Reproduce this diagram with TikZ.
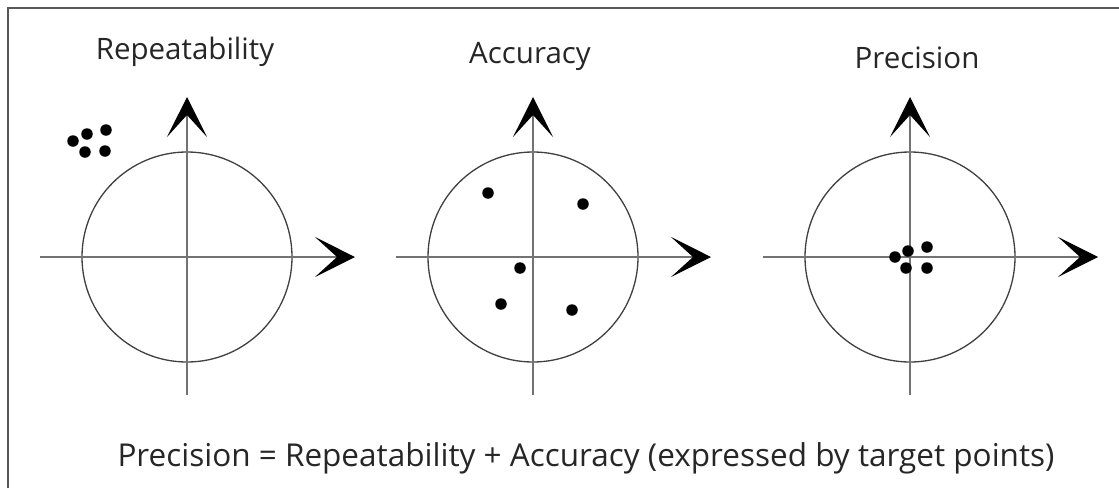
\documentclass[tikz,border=0pt]{standalone}
\usepackage{fontspec}
\setmainfont{Open Sans}
\usetikzlibrary{arrows.meta}
\begin{document}
\begin{tikzpicture}[x=1pt,y=-1pt,
  frameline/.style={draw=black!65,line width=2pt},
  axisline/.style={draw=black!55,line width=1.8pt,-{Stealth[length=40pt,width=40pt,inset=22pt,black]}},
  target/.style={circle,draw=black!75,line width=1.3pt,minimum size=210pt,inner sep=0pt},
  hit/.style={circle,fill=black,minimum size=11.5pt,inner sep=0pt},
  title/.style={anchor=base,font=\fontsize{29.5}{34}\selectfont,text=black!85},
  caption/.style={anchor=base,font=\fontsize{31.5}{36}\selectfont,text=black!85}]
\useasboundingbox (0,0) rectangle (1119,488);
\fill[white] (0,0) rectangle (1119,488);
% frame (top and left)
\coordinate (fbl) at (8,488);
\coordinate (ftl) at (8,8);
\coordinate (ftr) at (1119,8);
\draw[frameline] (fbl) -- (ftl) -- (ftr);
% ---------- panel 1
\node[target] (c1) at (187,257) {};
\coordinate (l1) at (40,257); \coordinate (r1) at (355,257);
\coordinate (b1) at (187,395); \coordinate (t1) at (187,97);
\draw[axisline] (l1) -- (r1);
\draw[axisline] (b1) -- (t1);
\node[title] (h1) at (185,59) {Repeatability};
\node[hit] (d11) at (73,141) {};
\node[hit] (d12) at (87,134) {};
\node[hit] (d13) at (106,130) {};
\node[hit] (d14) at (85,152) {};
\node[hit] (d15) at (105,151) {};
% ---------- panel 2
\node[target] (c2) at (533,257) {};
\coordinate (l2) at (396,257); \coordinate (r2) at (711,257);
\coordinate (b2) at (533,395); \coordinate (t2) at (533,97);
\draw[axisline] (l2) -- (r2);
\draw[axisline] (b2) -- (t2);
\node[title] (h2) at (530,63) {Accuracy};
\node[hit] (d21) at (488,193) {};
\node[hit] (d22) at (583,204) {};
\node[hit] (d23) at (520,268) {};
\node[hit] (d24) at (501,304) {};
\node[hit] (d25) at (572,310) {};
% ---------- panel 3
\node[target] (c3) at (910,257) {};
\coordinate (l3) at (763,257); \coordinate (r3) at (1098,257);
\coordinate (b3) at (910,395); \coordinate (t3) at (910,97);
\draw[axisline] (l3) -- (r3);
\draw[axisline] (b3) -- (t3);
\node[title] (h3) at (917,68) {Precision};
\node[hit] (d31) at (895,257) {};
\node[hit] (d32) at (908,251) {};
\node[hit] (d33) at (927,247) {};
\node[hit] (d34) at (906,268) {};
\node[hit] (d35) at (927,268) {};
% ---------- caption
\node[caption] (cap) at (586,466) {Precision = Repeatability + Accuracy (expressed by target points)};
\end{tikzpicture}
\end{document}
